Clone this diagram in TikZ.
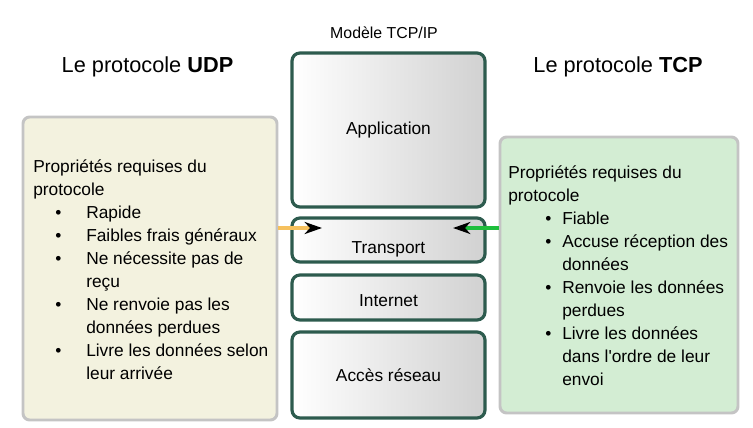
\documentclass[tikz,border=0pt]{standalone}
\usepackage{fontspec}
\setmainfont{Liberation Sans}[Ligatures=TeXOff]
\usetikzlibrary{arrows.meta,positioning}
\definecolor{vertcadre}{HTML}{2D5B4E}
\definecolor{fondudp}{HTML}{F3F2DF}
\definecolor{fondtcp}{HTML}{D3EDD3}
\definecolor{bordgris}{HTML}{C4C4C4}
\definecolor{orangeudp}{HTML}{F6C15E}
\definecolor{verttcp}{HTML}{1EBE3C}
% puces des listes
\newcommand\puceg{\hspace*{16.5pt}\makebox[23.25pt][l]{•}}
\newcommand\puced{\hspace*{27.75pt}\makebox[12.75pt][l]{•}}
\newcommand\suiteg{\hspace*{39.75pt}}
\newcommand\suited{\hspace*{40.5pt}}
\tikzset{
	couche/.style={draw=vertcadre, line width=2.4pt, rounded corners=6pt, left color=white, right color=black!18, minimum width=144.75pt, inner sep=0pt},
	cadre/.style={draw=bordgris, line width=2.2pt, rounded corners=5pt, inner sep=0pt},
	liste/.style={align=left, anchor=north west, inner sep=0pt},
	titre/.style={font=\fontsize{16.3}{20}\selectfont, anchor=base},
	fleche/.style={line width=3pt, -{Stealth[black,length=13pt,width=9pt,inset=4pt]}}
}
\begin{document}
\begin{tikzpicture}[x=0.75pt, y=-0.75pt, font=\fontsize{13}{17.25}\selectfont, line join=round]
	\useasboundingbox[fill=white] (0,0) rectangle (753,428);
	% titres
	\node[titre] (udptitre) at (147.5,73) {Le protocole \textbf{UDP}};
	\node[titre] (tcptitre) at (618,73) {Le protocole \textbf{TCP}};
	\node[anchor=base, font=\fontsize{11.9}{14}\selectfont] (modele) at (384,39) {Modèle TCP/IP};
	% cadres lateraux
	\node[cadre, fill=fondudp, minimum width=190.5pt, minimum height=227.25pt] (udpbox) at (150,268.5) {};
	\node[cadre, fill=fondtcp, minimum width=178.5pt, minimum height=207pt] (tcpbox) at (619,275) {};
	\node[liste] (udptxt) at (33,159) {Propriétés requises du\\protocole\\\puceg Rapide\\\puceg Faibles frais généraux\\\puceg Ne nécessite pas de\\\suiteg reçu\\\puceg Ne renvoie pas les\\\suiteg données perdues\\\puceg Livre les données selon\\\suiteg leur arrivée};
	\node[liste] (tcptxt) at (508,165) {Propriétés requises du\\protocole\\\puced Fiable\\\puced Accuse réception des\\\suited données\\\puced Renvoie les données\\\suited perdues\\\puced Livre les données\\\suited dans l'ordre de leur\\\suited envoi};
	% couches du modele
	\node[couche, minimum height=115.5pt] (app) at (388.5,130) {Application};
	\node[couche, minimum height=33pt] (trans) at (388.5,240) {};
	\node (transtxt) at ([yshift=-7pt]trans.center) {Transport};
	\node[couche, minimum height=33.75pt] (inet) at (388.5,297.5) {};
	\node (inettxt) at ([yshift=-2.5pt]inet.center) {Internet};
	\node[couche, minimum height=64.5pt] (acces) at (388.5,375) {Accès réseau};
	% fleches vers la couche transport
	\coordinate (pointeudp) at (322,228);
	\coordinate (pointetcp) at (453,228);
	\draw[fleche, orangeudp] (udpbox.east |- pointeudp) -- (pointeudp);
	\draw[fleche, verttcp] (tcpbox.west |- pointetcp) -- (pointetcp);
\end{tikzpicture}
\end{document}
